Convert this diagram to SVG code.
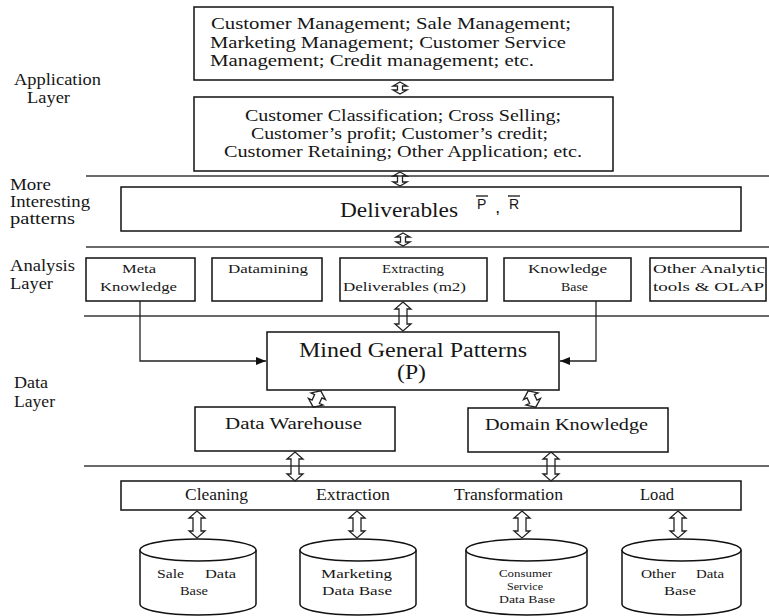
<svg xmlns="http://www.w3.org/2000/svg" width="769" height="616" viewBox="0 0 769 616">
<style>
.bg{fill:#ffffff}
.box{fill:#ffffff;stroke:#111;stroke-width:1.5}
.sep{stroke:#6a6a6a;stroke-width:2;fill:none}
text{font-family:'Liberation Serif','Times New Roman',Times,serif;fill:#161616}
.s16{font-size:16px}
.s13{font-size:13px}
.s11{font-size:11px}
.sans{font-family:'Liberation Sans',Arial,sans-serif}
.dbl{fill:none;stroke:#222;stroke-width:1.3;stroke-linejoin:miter}
.ln{fill:none;stroke:#222;stroke-width:1.3}
</style>
<defs>
<marker id="ah" viewBox="0 0 10 8" refX="10" refY="4" markerWidth="10" markerHeight="8" markerUnits="userSpaceOnUse" orient="auto">
<path d="M0,0 L10,4 L0,8 Z" fill="#111"/>
</marker>
</defs>
<rect class="bg" x="0" y="0" width="769" height="616"/>

<g id="separators">
<line class="sep" x1="86" y1="176" x2="769" y2="176"/>
<line class="sep" x1="86" y1="247" x2="769" y2="247"/>
<line class="sep" x1="84" y1="316" x2="769" y2="316"/>
<line class="sep" x1="84" y1="466" x2="769" y2="466"/>
</g>

<g id="layer-labels" class="s16">
<text x="14" y="85" textLength="87" lengthAdjust="spacingAndGlyphs">Application</text>
<text x="27" y="103" textLength="43" lengthAdjust="spacingAndGlyphs">Layer</text>
<text x="10" y="190" textLength="41" lengthAdjust="spacingAndGlyphs">More</text>
<text x="10" y="207" textLength="80" lengthAdjust="spacingAndGlyphs">Interesting</text>
<text x="10" y="224" textLength="65" lengthAdjust="spacingAndGlyphs">patterns</text>
<text x="10" y="271" textLength="65" lengthAdjust="spacingAndGlyphs">Analysis</text>
<text x="10" y="289" textLength="43" lengthAdjust="spacingAndGlyphs">Layer</text>
<text x="14" y="388" textLength="34" lengthAdjust="spacingAndGlyphs">Data</text>
<text x="14" y="407" textLength="41" lengthAdjust="spacingAndGlyphs">Layer</text>
</g>

<g id="app-top">
<rect class="box" x="194" y="7" width="419" height="73"/>
<text class="s16" x="211" y="29" textLength="360" lengthAdjust="spacingAndGlyphs">Customer Management; Sale Management;</text>
<text class="s16" x="210" y="48" textLength="356" lengthAdjust="spacingAndGlyphs">Marketing Management; Customer Service</text>
<text class="s16" x="210" y="66" textLength="324" lengthAdjust="spacingAndGlyphs">Management; Credit management; etc.</text>
</g>

<g id="app-bottom">
<rect class="box" x="194" y="97" width="419" height="74"/>
<text class="s16" x="245" y="121" textLength="316" lengthAdjust="spacingAndGlyphs">Customer Classification; Cross Selling;</text>
<text class="s16" x="251" y="139" textLength="297" lengthAdjust="spacingAndGlyphs">Customer’s profit; Customer’s credit;</text>
<text class="s16" x="224" y="157" textLength="358" lengthAdjust="spacingAndGlyphs">Customer Retaining; Other Application; etc.</text>
</g>

<g id="deliverables">
<rect class="box" x="121" y="187" width="620" height="44"/>
<text font-size="22" x="340" y="217" textLength="118" lengthAdjust="spacingAndGlyphs">Deliverables</text>
<text class="sans" font-size="14" x="477" y="209">P</text>
<text class="sans" font-size="12" font-weight="bold" x="496" y="213">,</text>
<text class="sans" font-size="14" x="509" y="209">R</text>
<line x1="476" y1="196" x2="488" y2="196" stroke="#1a1a1a" stroke-width="1.3"/>
<line x1="508" y1="196" x2="520" y2="196" stroke="#1a1a1a" stroke-width="1.3"/>
</g>

<g id="meta-knowledge">
<rect class="box" x="86" y="258" width="109" height="43"/>
<text class="s13" x="122" y="273" textLength="34" lengthAdjust="spacingAndGlyphs">Meta</text>
<text class="s13" x="100" y="291" textLength="77" lengthAdjust="spacingAndGlyphs">Knowledge</text>
</g>
<g id="datamining">
<rect class="box" x="212" y="258" width="110" height="43"/>
<text class="s13" x="228" y="273" textLength="80" lengthAdjust="spacingAndGlyphs">Datamining</text>
</g>
<g id="extracting">
<rect class="box" x="340" y="258" width="147" height="43"/>
<text class="s13" x="382" y="273" textLength="62" lengthAdjust="spacingAndGlyphs">Extracting</text>
<text class="s13" x="343" y="291" textLength="123" lengthAdjust="spacingAndGlyphs">Deliverables (m2)</text>
</g>
<g id="knowledge-base">
<rect class="box" x="504" y="258" width="127" height="43"/>
<text class="s13" x="528" y="273" textLength="79" lengthAdjust="spacingAndGlyphs">Knowledge</text>
<text class="s13" x="561" y="291" textLength="27" lengthAdjust="spacingAndGlyphs">Base</text>
</g>
<g id="other-analytic">
<rect class="box" x="650" y="258" width="116" height="43"/>
<text class="s13" x="653" y="273" textLength="112" lengthAdjust="spacingAndGlyphs">Other Analytic</text>
<text class="s13" x="653" y="291" textLength="111" lengthAdjust="spacingAndGlyphs">tools &amp; OLAP</text>
</g>

<g id="mined-patterns">
<rect class="box" x="267" y="332" width="292" height="58"/>
<text font-size="20" x="299" y="357" textLength="228" lengthAdjust="spacingAndGlyphs">Mined General Patterns</text>
<text font-size="20" x="397" y="379" textLength="29" lengthAdjust="spacingAndGlyphs">(P)</text>
</g>

<g id="data-warehouse">
<rect class="box" x="195" y="407" width="200" height="44"/>
<text class="s16" x="225" y="429" textLength="137" lengthAdjust="spacingAndGlyphs">Data Warehouse</text>
</g>
<g id="domain-knowledge">
<rect class="box" x="468" y="408" width="200" height="44"/>
<text class="s16" x="485" y="430" textLength="163" lengthAdjust="spacingAndGlyphs">Domain Knowledge</text>
</g>

<g id="etl">
<rect class="box" x="121" y="481" width="620" height="29"/>
<text class="s16" x="185" y="500" textLength="63" lengthAdjust="spacingAndGlyphs">Cleaning</text>
<text class="s16" x="316" y="500" textLength="74" lengthAdjust="spacingAndGlyphs">Extraction</text>
<text class="s16" x="454" y="500" textLength="109" lengthAdjust="spacingAndGlyphs">Transformation</text>
<text class="s16" x="640" y="500" textLength="34" lengthAdjust="spacingAndGlyphs">Load</text>
</g>

<g id="sale-db">
<path class="box" d="M140,550 V604 A58,11 0 0 0 256,604 V550"/>
<ellipse class="box" cx="198" cy="550" rx="58" ry="11"/>
<text class="s13" y="578"><tspan x="157" textLength="27" lengthAdjust="spacingAndGlyphs">Sale</tspan><tspan x="205" textLength="31" lengthAdjust="spacingAndGlyphs">Data</tspan></text>
<text class="s13" x="180" y="595" textLength="28" lengthAdjust="spacingAndGlyphs">Base</text>
</g>
<g id="marketing-db">
<path class="box" d="M300,550 V604 A58,11 0 0 0 416,604 V550"/>
<ellipse class="box" cx="358" cy="550" rx="58" ry="11"/>
<text class="s13" x="321" y="578" textLength="71" lengthAdjust="spacingAndGlyphs">Marketing</text>
<text class="s13" x="322" y="595" textLength="70" lengthAdjust="spacingAndGlyphs">Data Base</text>
</g>
<g id="consumer-db">
<path class="box" d="M466,550 V604 A60.5,11 0 0 0 587,604 V550"/>
<ellipse class="box" cx="526.5" cy="550" rx="60.5" ry="11"/>
<text class="s11" x="499" y="577" textLength="53" lengthAdjust="spacingAndGlyphs">Consumer</text>
<text class="s11" x="507" y="590" textLength="36" lengthAdjust="spacingAndGlyphs">Service</text>
<text class="s11" x="499" y="603" textLength="56" lengthAdjust="spacingAndGlyphs">Data Base</text>
</g>
<g id="other-db">
<path class="box" d="M622,550 V604 A59.5,11 0 0 0 741,604 V550"/>
<ellipse class="box" cx="681.5" cy="550" rx="59.5" ry="11"/>
<text class="s13" y="578"><tspan x="641" textLength="35" lengthAdjust="spacingAndGlyphs">Other</tspan><tspan x="696" textLength="28" lengthAdjust="spacingAndGlyphs">Data</tspan></text>
<text class="s13" x="664" y="595" textLength="32" lengthAdjust="spacingAndGlyphs">Base</text>
</g>

<g id="connectors">
<path class="dbl" d="M400,82 L407,86 L402.5,86 L402.5,90 L407,90 L400,94 L393,90 L397.5,90 L397.5,86 L393,86 Z"/>
<path class="dbl" d="M400,172 L407,176 L402.5,176 L402.5,182 L407,182 L400,186 L393,182 L397.5,182 L397.5,176 L393,176 Z"/>
<path class="dbl" d="M403,233 L410,237 L405.5,237 L405.5,242 L410,242 L403,246 L396,242 L400.5,242 L400.5,237 L396,237 Z"/>
<path class="dbl" d="M403,302 L411,309 L407,309 L407,324 L411,324 L403,331 L395,324 L399,324 L399,309 L395,309 Z"/>
<path class="dbl" transform="translate(317,399) rotate(25)" d="M0,-9 L8,-3 L4,-3 L4,3 L8,3 L0,9 L-8,3 L-4,3 L-4,-3 L-8,-3 Z"/>
<path class="dbl" transform="translate(532,399) rotate(-25)" d="M0,-9 L8,-3 L4,-3 L4,3 L8,3 L0,9 L-8,3 L-4,3 L-4,-3 L-8,-3 Z"/>
<path class="dbl" d="M295,452 L303,459 L299,459 L299,474 L303,474 L295,481 L287,474 L291,474 L291,459 L287,459 Z"/>
<path class="dbl" d="M551,452 L559,459 L555,459 L555,474 L559,474 L551,481 L543,474 L547,474 L547,459 L543,459 Z"/>
<path class="dbl" d="M197,511 L205,518 L201,518 L201,531 L205,531 L197,538 L189,531 L193,531 L193,518 L189,518 Z"/>
<path class="dbl" d="M357,511 L365,518 L361,518 L361,531 L365,531 L357,538 L349,531 L353,531 L353,518 L349,518 Z"/>
<path class="dbl" d="M522,511 L530,518 L526,518 L526,531 L530,531 L522,538 L514,531 L518,531 L518,518 L514,518 Z"/>
<path class="dbl" d="M678,511 L686,518 L682,518 L682,531 L686,531 L678,538 L670,531 L674,531 L674,518 L670,518 Z"/>
<path class="ln" d="M140,301 V361 H266" marker-end="url(#ah)"/>
<path class="ln" d="M596,301 V361 H560" marker-end="url(#ah)"/>
</g>
</svg>
